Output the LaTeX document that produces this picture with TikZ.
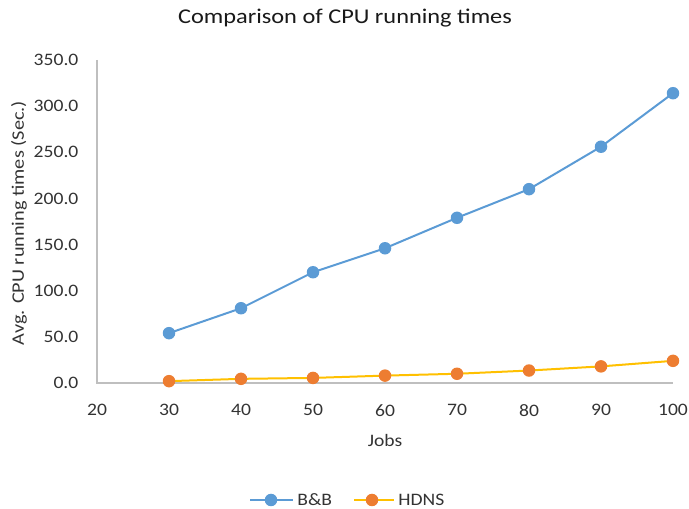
\documentclass[tikz,border=0pt]{standalone}
\usepackage{fontspec}
\setmainfont{Carlito}
\usetikzlibrary{positioning}
\definecolor{bbblue}{HTML}{5B9BD5}
\definecolor{hdorange}{HTML}{ED7D31}
\definecolor{hdyellow}{HTML}{FFC000}
\definecolor{axisgray}{HTML}{BFBFBF}
\definecolor{labelgray}{HTML}{333333}

\begin{document}
\begin{tikzpicture}[
      x=1pt,y=1pt,
      dot/.style={
         circle,
         inner sep=0pt,
         minimum size=12.5pt},
      bbdot/.style={dot, fill=bbblue},
      hddot/.style={dot, fill=hdorange},
      bbline/.style={draw=bbblue, line width=2pt},
      hdline/.style={draw=hdyellow, line width=2pt},
      axisline/.style={draw=axisgray, line width=1.2pt},
      ticklabel/.style={
         font=\fontsize{17.5}{20}\selectfont,
         text=labelgray,
         xscale=1.12, transform shape,
         inner sep=1pt},
      titletext/.style={
         font=\fontsize{21}{24}\selectfont,
         text=black!90,
         xscale=1.16, transform shape},
      axistitle/.style={
         font=\fontsize{17.5}{20}\selectfont,
         text=labelgray,
         transform shape},
      ]
      \useasboundingbox (0,0) rectangle (689,509);
      \node[titletext] (title) at (345,491) {Comparison of CPU running times};
      \begin{scope}[shift={(97,126)}, x=7.2pt, y=0.9229pt]
        % axes
        \coordinate (orig) at (0,0);
        \coordinate (ytop) at (0,350);
        \coordinate (xend) at (80,0);
        \draw[axisline] (ytop) -- (orig) -- (xend);
        \foreach \v in {0,50,...,350}
          \node[ticklabel, anchor=east] (yt\v) at (-2.4,\v) {\v.0};
        \foreach \v in {20,30,...,100}
          \node[ticklabel] (xt\v) at (\v-20,-29.5) {\v};
        % B&B
        \foreach \j/\t in {30/54,40/81,50/120,60/146,70/179,80/210,90/256,100/314}
          \coordinate (b\j) at (\j-20,\t);
        \foreach \i/\j in {30/40,40/50,50/60,60/70,70/80,80/90,90/100}
          \draw[bbline] (b\i) -- (b\j);
        \foreach \j in {30,40,...,100}
          \node[bbdot] (bd\j) at (b\j) {};
        % HDNS
        \foreach \j/\t in {30/2,40/4.5,50/5.5,60/8,70/10,80/13.5,90/18,100/24}
          \coordinate (h\j) at (\j-20,\t);
        \foreach \i/\j in {30/40,40/50,50/60,60/70,70/80,80/90,90/100}
          \draw[hdline] (h\i) -- (h\j);
        \foreach \j in {30,40,...,100}
          \node[hddot] (hd\j) at (h\j) {};
      \end{scope}
      \node[axistitle, xscale=1.12] (xtitle) at (385,69) {Jobs};
      \node[axistitle, rotate=90, xscale=1.16] (ytitle) at (19,286) {Avg. CPU running times (Sec.)};
      % legend
      \coordinate (lbl) at (250,9);
      \coordinate (lbr) at (293,9);
      \draw[bbline] (lbl) -- (lbr);
      \node[bbdot] (lbd) at (271,9) {};
      \node[ticklabel, anchor=west] (lbt) at (296,9) {B\&B};
      \coordinate (lhl) at (354,9);
      \coordinate (lhr) at (394,9);
      \draw[hdline] (lhl) -- (lhr);
      \node[hddot] (lhd) at (372,9) {};
      \node[ticklabel, anchor=west] (lht) at (397,9) {HDNS};
\end{tikzpicture}
\end{document}
